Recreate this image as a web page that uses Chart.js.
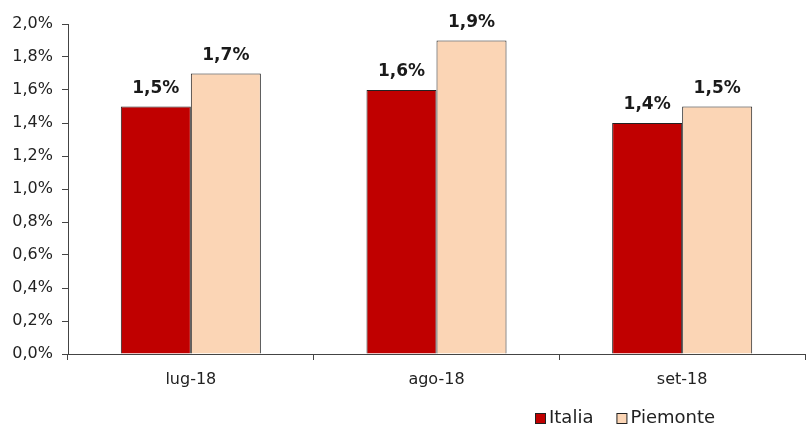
<!DOCTYPE html>
<html>
<head>
<meta charset="utf-8">
<script src="https://cdn.jsdelivr.net/npm/chart.js@4.4.1/dist/chart.umd.min.js"></script>
<style>
  html, body { margin: 0; padding: 0; background: #fff; }
  #wrap { width: 806px; height: 428px; }
</style>
</head>
<body>
<div id="wrap"><canvas id="myChart" width="806" height="428"></canvas></div>
<script>
// dati
var categories = ['lug-18', 'ago-18', 'set-18'];
var italia = [1.5, 1.6, 1.4];
var piemonte = [1.7, 1.9, 1.5];
var yTicks = [0, 0.2, 0.4, 0.6, 0.8, 1.0, 1.2, 1.4, 1.6, 1.8, 2.0];

function fmt(v) {
    return v.toFixed(1).replace('.', ',') + '%';
}

// etichette sopra le barre
var valueLabels = {
    id: 'valueLabels',
    afterDatasetsDraw: function (chart) {
        var ctx = chart.ctx;
        ctx.save();
        ctx.font = 'bold 17px "DejaVu Sans"';
        ctx.fillStyle = '#1a1a1a';
        ctx.textAlign = 'center';
        ctx.textBaseline = 'alphabetic';
        chart.data.datasets.forEach(function (ds, i) {
            chart.getDatasetMeta(i).data.forEach(function (bar, j) {
                ctx.fillText(fmt(ds.data[j]), bar.x, bar.y - 14);
            });
        });
        ctx.restore();
    }
};

// legenda in basso a destra
var bottomLegend = {
    id: 'bottomLegend',
    afterDraw: function (chart) {
        var ctx = chart.ctx;
        var x = 535, y = 418, box = 10;
        ctx.save();
        ctx.font = '18px "DejaVu Sans"';
        ctx.textBaseline = 'middle';
        ctx.textAlign = 'left';
        chart.data.datasets.forEach(function (ds) {
            ctx.fillStyle = ds.backgroundColor;
            ctx.fillRect(x + 0.5, y - box / 2 + 0.5, box, box);
            ctx.strokeStyle = '#222';
            ctx.lineWidth = 1;
            ctx.strokeRect(x + 0.5, y - box / 2 + 0.5, box, box);
            ctx.fillStyle = '#222';
            ctx.fillText(ds.label, x + box + 4, y);
            x += box + 4 + ctx.measureText(ds.label).width + 23;
        });
        ctx.restore();
    }
};

var ctx = document.getElementById('myChart').getContext('2d');
var myChart = new Chart(ctx, {
    type: 'bar',
    data: {
        labels: categories,
        datasets: [{
            label: 'Italia',
            data: italia,
            backgroundColor: '#C00000',
            borderColor: '#222',
            borderWidth: 1,
            categoryPercentage: 0.57,
            barPercentage: 1.0
        }, {
            label: 'Piemonte',
            data: piemonte,
            backgroundColor: '#FBD5B5',
            borderColor: '#222',
            borderWidth: 1,
            categoryPercentage: 0.57,
            barPercentage: 1.0
        }]
    },
    options: {
        responsive: false,
        animation: false,
        layout: { padding: { top: 24, right: 1, left: 0, bottom: 34 } },
        plugins: {
            tooltip: { enabled: false },
            legend: { display: false }
        },
        scales: {
            y: {
                min: 0,
                max: 2.0,
                afterBuildTicks: function (axis) {
                    axis.ticks = yTicks.map(function (v) { return { value: v }; });
                },
                afterFit: function (axis) { axis.width = 68; },
                grid: { drawOnChartArea: false, drawTicks: true, tickLength: 6, color: '#444' },
                border: { color: '#444', width: 1 },
                ticks: {
                    color: '#222',
                    padding: 9,
                    font: { family: '"DejaVu Sans"', size: 16 },
                    callback: function (v) { return fmt(v); }
                }
            },
            x: {
                afterFit: function (axis) { axis.height = 40; },
                grid: { drawOnChartArea: false, drawTicks: true, tickLength: 6, color: '#444', offset: true },
                border: { color: '#444', width: 1 },
                ticks: {
                    color: '#222',
                    padding: 10,
                    font: { family: '"DejaVu Sans"', size: 16 }
                }
            }
        }
    },
    plugins: [valueLabels, bottomLegend]
});
</script>
</body>
</html>
